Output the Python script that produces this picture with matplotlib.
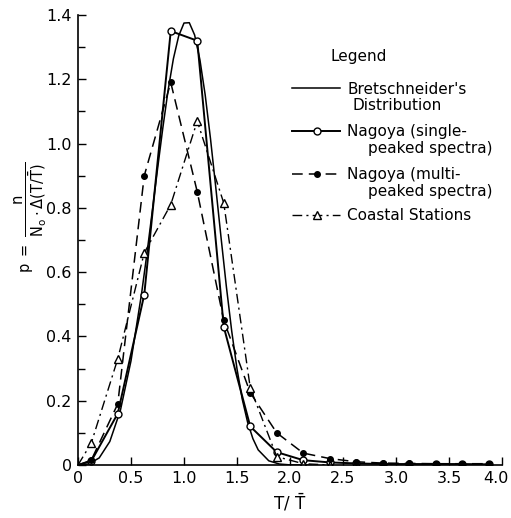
import matplotlib
matplotlib.use("Agg")
import matplotlib.pyplot as plt
from matplotlib.lines import Line2D
from matplotlib.ticker import MultipleLocator
from matplotlib.transforms import ScaledTranslation

plt.rcParams['font.family'] = ['DejaVu Sans']
plt.rcParams['mathtext.default'] = 'regular'

# ---- data ----
x_obs = [0.0, 0.125, 0.375, 0.625, 0.875, 1.125, 1.375, 1.625, 1.875, 2.125,
         2.375, 2.625, 2.875, 3.125, 3.375, 3.625, 3.875]
nagoya_single = [0.0, 0.012, 0.16, 0.53, 1.35, 1.32, 0.43, 0.12, 0.04, 0.015,
                 0.008, 0.005, 0.003, 0.003, 0.003, 0.003, 0.002]
nagoya_multi = [0.0, 0.015, 0.19, 0.90, 1.19, 0.85, 0.45, 0.225, 0.10, 0.037,
                0.02, 0.01, 0.006, 0.005, 0.004, 0.004, 0.004]
x_coast = [0.0, 0.125, 0.375, 0.625, 0.875, 1.125, 1.375, 1.625, 1.875, 2.125, 2.375]
coastal = [0.0, 0.068, 0.33, 0.66, 0.81, 1.07, 0.815, 0.24, 0.026, 0.004, 0.0]

x_bret = [0.0, 0.1, 0.2, 0.3, 0.4, 0.5, 0.6, 0.65, 0.7, 0.75, 0.8, 0.85, 0.9, 0.95,
          1.0, 1.05, 1.1, 1.15, 1.2, 1.25, 1.3, 1.35, 1.4, 1.45, 1.5, 1.55, 1.6,
          1.65, 1.7, 1.8, 1.9, 2.0, 2.1, 2.2]
bret = [0.0, 0.003, 0.022, 0.073, 0.170, 0.324, 0.534, 0.657, 0.788, 0.920, 1.048,
        1.166, 1.264, 1.335, 1.375, 1.376, 1.338, 1.261, 1.151, 1.015, 0.863, 0.706,
        0.554, 0.417, 0.299, 0.204, 0.133, 0.082, 0.047, 0.013, 0.003, 0.0004, 0.0, 0.0]

x_ticks = [0, 0.5, 1.0, 1.5, 2.0, 2.5, 3.0, 3.5, 4.0]
x_ticklabels = ['0', '0.5', '1.0', '1.5', '2.0', '2.5', '3.0', '3.5', '4.0']
y_ticks = [0, 0.2, 0.4, 0.6, 0.8, 1.0, 1.2, 1.4]
y_ticklabels = ['0', '0.2', '0.4', '0.6', '0.8', '1.0', '1.2', '1.4']

legend_labels = [("Bretschneider's", "Distribution"),
                 ("Nagoya (single-", "peaked spectra)"),
                 ("Nagoya (multi-", "peaked spectra)"),
                 ("Coastal Stations", None)]

W, H = 511, 518
fig = plt.figure(figsize=(W / 100, H / 100), dpi=100)
ax = fig.add_axes([78 / W, 1 - 465 / H, 424 / W, 450 / H])

ax.plot(x_bret, bret, color='black', lw=1.1, solid_capstyle='round')
ax.plot(x_obs, nagoya_single, color='black', lw=1.4, marker='o', ms=5,
        mfc='white', mec='black', mew=1.0, markevery=slice(1, None))
ax.plot(x_obs, nagoya_multi, color='black', lw=1.1, ls=(0, (7, 4)), marker='o', ms=4,
        mfc='black', mec='black', markevery=slice(1, None))
ax.plot(x_coast, coastal, color='black', lw=1.0, ls=(0, (7, 3, 1.5, 3)), marker='^', ms=6,
        mfc='white', mec='black', mew=1.0, markevery=slice(1, None))

ax.set_xlim(0, 4.0)
ax.set_ylim(0, 1.4)
ax.set_xticks(x_ticks)
ax.set_xticklabels(x_ticklabels)
ax.set_yticks(y_ticks)
ax.set_yticklabels(y_ticklabels)
ax.yaxis.set_minor_locator(MultipleLocator(0.1))
ax.tick_params(axis='both', which='major', direction='in', length=6, width=1.0,
               labelsize=11.5, colors='black')
ax.tick_params(axis='y', which='minor', direction='in', length=5, width=1.0)
ax.tick_params(axis='x', pad=4.5)
ax.tick_params(axis='y', pad=4.5)
for s in ['top', 'right']:
    ax.spines[s].set_visible(False)
for s in ['left', 'bottom']:
    ax.spines[s].set_linewidth(1.2)

# keep the last x tick label inside the canvas
last = ax.get_xticklabels()[-1]
last.set_transform(last.get_transform() + ScaledTranslation(-6 / 100, 0, fig.dpi_scale_trans))

ax.set_xlabel(r'$T/\ \bar{T}$', fontsize=12, labelpad=4)
fig.text(31 / W, 1 - 217 / H, r'$p\ =\ \dfrac{n}{N_o\cdot\Delta(T/\bar{T})}$',
         rotation=90, fontsize=10.5, ha='center', va='center')


def P(x, y):
    return (x / W, 1 - y / H)


fs = 11
fig.text(*P(330, 57), 'Legend', fontsize=fs, ha='left', va='center')
rows = [88, 131, 174, 215]
styles = [dict(ls='-', lw=1.1, marker=None),
          dict(ls='-', lw=1.4, marker='o', ms=5, mfc='white', mec='black'),
          dict(ls=(0, (7, 4)), lw=1.1, marker='o', ms=4, mfc='black', mec='black'),
          dict(ls=(0, (7, 3, 1.5, 3)), lw=1.0, marker='^', ms=6, mfc='white', mec='black')]
for (l1, l2), yy, st in zip(legend_labels, rows, styles):
    x0, y0 = P(292, yy)
    x1, _ = P(340, yy)
    xm, _ = P(317, yy)
    ln = Line2D([x0, x1], [y0, y0], color='black', transform=fig.transFigure,
                ls=st['ls'], lw=st['lw'])
    fig.add_artist(ln)
    if st.get('marker'):
        mk = Line2D([xm], [y0], transform=fig.transFigure, ls='none',
                    marker=st['marker'], ms=st['ms'], mfc=st['mfc'], mec=st['mec'], mew=1.0)
        fig.add_artist(mk)
    fig.text(*P(347, yy + 1), l1, fontsize=fs, ha='left', va='center')
    if l2:
        indent = 352 if l1.startswith('Bret') else 368
        fig.text(*P(indent, yy + 18), l2, fontsize=fs, ha='left', va='center')

fig.savefig('out.png', dpi=100)
